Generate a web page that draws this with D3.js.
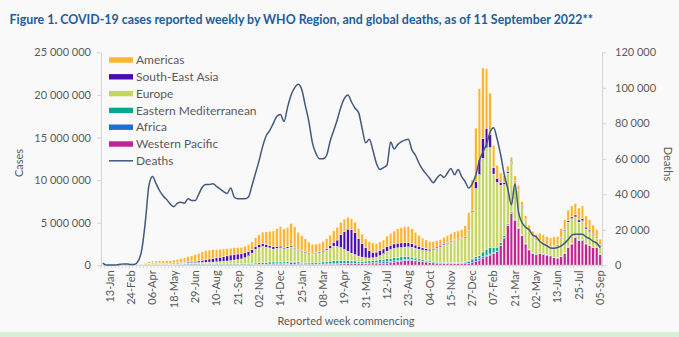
<!DOCTYPE html>
<html>
<head>
<meta charset="utf-8">
<script src="https://cdn.jsdelivr.net/npm/d3@7"></script>
<style>
  body { margin: 0; background: #f9f9f9; }
  svg { display: block; font-family: Lato, "Open Sans", sans-serif; }
</style>
</head>
<body>
<div id="chart"></div>
<script>
// weekly categories: 30-Dec-2019 .. 05-Sep-2022
const firstWeek = '2019-12-30';
const weekCount = 141;
const tickLabels = ['13-Jan', '24-Feb', '06-Apr', '18-May', '29-Jun', '10-Aug', '21-Sep', '02-Nov',
    '14-Dec', '25-Jan', '08-Mar', '19-Apr', '31-May', '12-Jul', '23-Aug', '04-Oct', '15-Nov',
    '27-Dec', '07-Feb', '21-Mar', '02-May', '13-Jun', '25-Jul', '05-Sep'];
const labelStart = 2;
const labelStep = 6;
const caseTicks = [0, 5000000, 10000000, 15000000, 20000000, 25000000];
const deathTicks = [0, 20000, 40000, 60000, 80000, 100000, 120000];

// weekly cases by region, thousands
const americas = [0, 0, 0, 0, 0, 0, 0, 0, 0, 0.1,
    2, 20, 90, 170, 220, 220, 250, 260, 290, 290,
    350, 400, 470, 520, 620, 680, 780, 870, 1000, 1050,
    1050, 1050, 1000, 940, 900, 850, 800, 780, 760, 770,
    790, 830, 880, 1050, 1150, 1350, 1500, 1650, 1850, 2050,
    2300, 2150, 2300, 2600, 2400, 2000, 1750, 1500, 1250, 1050,
    1000, 1000, 1050, 1150, 1250, 1350, 1500, 1450, 1450, 1400,
    1250, 1200, 1150, 1100, 1000, 1050, 1100, 1000, 1000, 1050,
    1250, 1400, 1500, 1700, 1800, 1900, 1900, 1750, 1500, 1300,
    1150, 1000, 900, 780, 750, 760, 780, 830, 880, 900,
    950, 1000, 1300, 2100, 3600, 6300, 8300, 8300, 7000, 4900,
    2600, 1500, 1100, 800, 650, 600, 550, 500, 500, 480,
    500, 600, 700, 850, 900, 950, 1000, 1000, 1000, 1050,
    1150, 1250, 1300, 1350, 1400, 1500, 1300, 1200, 1050, 900,
    650];
const southEastAsia = [0, 0, 0, 0, 0, 0, 0, 0, 0, 0,
    0, 0, 2, 5, 10, 15, 20, 25, 30, 40,
    50, 65, 80, 95, 110, 130, 160, 190, 240, 300,
    360, 420, 470, 510, 560, 600, 650, 680, 650, 610,
    560, 500, 420, 360, 330, 320, 310, 300, 280, 250,
    210, 180, 160, 150, 140, 130, 120, 110, 100, 100,
    110, 130, 150, 200, 300, 470, 750, 1500, 2100, 2600,
    2800, 2600, 2100, 1600, 1200, 850, 650, 580, 600, 560,
    520, 500, 520, 550, 540, 500, 460, 430, 380, 340,
    290, 240, 200, 170, 150, 140, 130, 120, 110, 100,
    100, 100, 100, 110, 150, 800, 1800, 2300, 2300, 1500,
    800, 500, 350, 250, 180, 130, 100, 80, 70, 60,
    50, 40, 40, 40, 40, 45, 60, 80, 90, 110,
    130, 160, 200, 230, 250, 250, 220, 180, 150, 120,
    90];
const europe = [0, 0, 0, 0, 0, 0, 0, 0, 1, 6,
    35, 85, 155, 200, 230, 220, 200, 170, 150, 130,
    120, 110, 115, 120, 125, 130, 135, 140, 150, 165,
    180, 190, 220, 260, 290, 330, 390, 450, 500, 560,
    700, 900, 1200, 1600, 1800, 1900, 1750, 1650, 1500, 1600,
    1650, 1550, 1600, 1700, 1550, 1350, 1250, 1150, 1050, 1000,
    1050, 1100, 1200, 1350, 1500, 1700, 1650, 1500, 1300, 1100,
    900, 750, 600, 480, 400, 340, 330, 380, 480, 650,
    900, 1050, 1100, 1100, 1100, 1100, 1150, 1150, 1150, 1150,
    1100, 1150, 1200, 1400, 1600, 1750, 2000, 2200, 2400, 2600,
    2650, 2750, 2800, 3400, 5500, 8000, 9500, 11000, 11900, 11700,
    8600, 7600, 6700, 6000, 5900, 5700, 4400, 4400, 3300, 2700,
    2300, 1900, 1600, 1450, 1300, 1100, 1000, 1300, 1400, 2100,
    2600, 2900, 2900, 2300, 2100, 2200, 1700, 1600, 1350, 1050,
    1000];
const easternMediterranean = [0, 0, 0, 0, 0, 0, 0, 0, 0.2, 3,
    8, 12, 20, 25, 28, 30, 35, 40, 50, 65,
    80, 90, 100, 115, 120, 115, 110, 100, 95, 90,
    85, 80, 80, 85, 90, 95, 100, 105, 110, 120,
    130, 140, 150, 170, 190, 210, 230, 240, 230, 210,
    190, 170, 160, 140, 140, 140, 140, 150, 160, 170,
    190, 210, 240, 280, 320, 350, 370, 370, 350, 320,
    280, 250, 230, 230, 240, 250, 250, 250, 270, 290,
    320, 350, 370, 380, 380, 370, 340, 300, 260, 220,
    190, 160, 140, 120, 110, 100, 95, 90, 85, 85,
    85, 90, 100, 120, 150, 250, 350, 550, 750, 800,
    600, 450, 330, 250, 180, 130, 100, 80, 60, 40,
    30, 25, 20, 20, 20, 20, 20, 20, 25, 30,
    40, 50, 60, 60, 55, 50, 45, 40, 35, 30,
    25];
const africa = [0, 0, 0, 0, 0, 0, 0, 0, 0, 0,
    0, 0, 2, 3, 4, 5, 7, 9, 12, 14,
    17, 20, 25, 30, 40, 50, 60, 70, 80, 90,
    85, 75, 65, 55, 45, 40, 35, 32, 30, 30,
    32, 35, 38, 40, 45, 50, 55, 60, 70, 80,
    95, 110, 130, 180, 160, 140, 110, 90, 75, 65,
    60, 60, 55, 55, 55, 55, 55, 55, 55, 50,
    50, 55, 60, 70, 90, 110, 140, 170, 190, 200,
    190, 170, 140, 120, 110, 100, 90, 80, 70, 60,
    50, 40, 35, 30, 25, 25, 25, 25, 25, 25,
    30, 60, 140, 250, 330, 300, 200, 160, 150, 120,
    100, 80, 60, 50, 40, 40, 35, 30, 30, 30,
    35, 40, 45, 50, 50, 45, 40, 35, 30, 25,
    20, 20, 20, 20, 20, 20, 20, 20, 15, 15,
    10];
const westernPacific = [0.1, 0.05, 0.2, 2, 12, 21, 28, 14, 4, 3,
    5, 8, 12, 18, 20, 15, 12, 10, 8, 7,
    7, 8, 8, 8, 9, 10, 12, 15, 20, 25,
    30, 35, 40, 45, 45, 40, 35, 35, 35, 35,
    40, 45, 50, 55, 60, 70, 80, 90, 95, 100,
    110, 110, 120, 130, 130, 120, 110, 100, 90, 80,
    80, 90, 100, 110, 120, 130, 140, 160, 170, 180,
    190, 200, 190, 180, 170, 160, 160, 170, 200, 220,
    250, 300, 380, 450, 500, 570, 600, 580, 520, 460,
    420, 380, 330, 280, 260, 250, 250, 250, 240, 230,
    220, 200, 200, 200, 300, 450, 600, 850, 1000, 1200,
    1400, 1600, 2300, 3200, 4700, 6100, 5300, 4300, 3500, 2500,
    1800, 1400, 1250, 1350, 1300, 1200, 1100, 900, 850, 1000,
    1400, 2100, 2500, 3300, 2900, 2950, 2500, 2300, 2100, 2100,
    1300];
// global weekly deaths, thousands
const deaths = [1.2, 0.1, 0.1, 0.1, 0.3, 0.6, 0.8, 0.7, 0.5, 0.6,
    2.5, 9, 25, 45, 50, 46, 42, 39, 37, 34.5,
    33, 35, 35.5, 35, 37.5, 36.5, 36.5, 40, 44, 45.5,
    45.5, 46, 44.5, 43, 41.5, 40.5, 43.5, 38.5, 37.5, 37.5,
    37.5, 38.5, 45, 52, 59, 67, 73, 76, 80, 84,
    85, 81, 89, 96, 100, 102, 99, 90, 81, 69,
    63, 60, 60, 62, 70, 76, 82, 89, 94, 96,
    92, 88.5, 86, 77, 69, 71, 65, 57.5, 54, 55,
    56.5, 69.5, 65.5, 68, 69.5, 70.5, 71, 65, 62, 57.5,
    54, 51.5, 49, 46.5, 49, 51, 49.5, 52, 54.5, 51,
    54, 50, 47, 43.5, 46, 51, 59, 64, 68, 75,
    77.5, 71, 62, 51, 43, 34, 46, 30, 24, 21.5,
    20, 17, 16, 13.5, 12, 11, 9.8, 9.6, 10, 11,
    12.5, 14.5, 17, 17.5, 17.5, 17.5, 16, 15, 13.5, 12.5,
    10];

// stack order bottom -> top
const series = [
    { key: 'Western Pacific', values: westernPacific, color: '#bf2490' },
    { key: 'Africa', values: africa, color: '#1e6ecf' },
    { key: 'Eastern Mediterranean', values: easternMediterranean, color: '#05a88e' },
    { key: 'Europe', values: europe, color: '#c4d65b' },
    { key: 'South-East Asia', values: southEastAsia, color: '#4c0db0' },
    { key: 'Americas', values: americas, color: '#fdb52f' }
];
const deathColor = '#42587e';
const textColor = '#595959';
const axisColor = '#d4d4d4';

const width = 679, height = 337;
const plot = { left: 101, right: 602, top: 52.3, bottom: 265.3 };

const start = d3.timeParse('%Y-%m-%d')(firstWeek);
const weeks = d3.range(weekCount).map(i => d3.timeWeek.offset(start, i));

const table = weeks.map((w, i) => {
    const row = { week: i };
    series.forEach(s => { row[s.key] = s.values[i] * 1000; });
    return row;
});
const stacked = d3.stack().keys(series.map(s => s.key))(table);

const svg = d3.select('#chart')
    .append('svg')
    .attr('width', width)
    .attr('height', height);

svg.append('rect').attr('width', width).attr('height', height).attr('fill', '#f9f9f9');
svg.append('rect').attr('y', 332).attr('width', width).attr('height', 5).attr('fill', '#d9efd7');

//title
const title = svg.append('text')
    .attr('x', 9.5)
    .attr('y', 24)
    .attr('fill', '#215e99')
    .attr('font-weight', 'bold')
    .attr('font-size', 14)
    .text('Figure 1. COVID-19 cases reported weekly by WHO Region, and global deaths, as of 11 September 2022**');
const titleWidth = title.node().getComputedTextLength();
title.attr('font-size', 14 * 584 / titleWidth);

//scales
const x = d3.scaleBand().domain(d3.range(weekCount))
    .range([plot.left, plot.right])
    .paddingInner(0.26)
    .paddingOuter(0.13);
const step = x.step();
const y = d3.scaleLinear().domain([0, 25000000]).range([plot.bottom, plot.top]);
const yDeaths = d3.scaleLinear().domain([0, 120000]).range([plot.bottom, plot.top]);

const fmt = d3.formatLocale({ decimal: '.', thousands: ' ', grouping: [3], currency: ['', ''] }).format(',');

//bars
svg.append('g')
    .selectAll('g')
    .data(stacked)
    .join('g')
    .attr('fill', (d, i) => series[i].color)
    .selectAll('rect')
    .data(d => d)
    .join('rect')
    .attr('x', (d, i) => x(i))
    .attr('width', x.bandwidth())
    .attr('y', d => y(d[1]))
    .attr('height', d => Math.max(0, y(d[0]) - y(d[1])))
    .attr('stroke', '#fff')
    .attr('stroke-width', 0.4);

//axes
const styleAxis = g => {
    g.select('.domain').attr('stroke', axisColor);
    g.selectAll('.tick line').attr('stroke', axisColor);
    g.selectAll('.tick text').attr('fill', textColor).attr('font-size', 11).attr('font-family', 'Lato, sans-serif');
};

svg.append('g')
    .attr('transform', `translate(${plot.left},0)`)
    .call(d3.axisLeft(y).tickValues(caseTicks).tickSize(4).tickSizeOuter(0).tickPadding(6).tickFormat(fmt))
    .call(styleAxis);

svg.append('g')
    .attr('transform', `translate(${plot.right},0)`)
    .call(d3.axisRight(yDeaths).tickValues(deathTicks).tickSize(4).tickSizeOuter(0).tickPadding(9).tickFormat(fmt))
    .call(styleAxis);

const xAxis = svg.append('g').attr('transform', `translate(0,${plot.bottom})`);
xAxis.append('line')
    .attr('x1', plot.left).attr('x2', plot.right)
    .attr('stroke', axisColor);
xAxis.selectAll('.wk')
    .data(d3.range(weekCount + 1))
    .join('line')
    .attr('class', 'wk')
    .attr('x1', i => plot.left + step * i)
    .attr('x2', i => plot.left + step * i)
    .attr('y1', 0).attr('y2', 3)
    .attr('stroke', axisColor)
    .attr('stroke-width', 0.8);
xAxis.selectAll('.lbl')
    .data(tickLabels)
    .join('text')
    .attr('class', 'lbl')
    .attr('transform', (d, k) => {
        const i = labelStart + k * labelStep;
        return `translate(${x(i) + x.bandwidth() / 2},5) rotate(-90)`;
    })
    .attr('dy', '0.35em')
    .attr('text-anchor', 'end')
    .attr('fill', textColor)
    .attr('font-size', 11)
    .text(d => d);

//deaths line
svg.append('path')
    .datum(deaths)
    .attr('fill', 'none')
    .attr('stroke', deathColor)
    .attr('stroke-width', 1.5)
    .attr('d', d3.line()
        .curve(d3.curveMonotoneX)
        .x((d, i) => x(i) + x.bandwidth() / 2)
        .y(d => yDeaths(d * 1000)));

//axis titles
svg.append('text')
    .attr('transform', 'translate(23,163) rotate(-90)')
    .attr('text-anchor', 'middle')
    .attr('fill', textColor).attr('font-size', 11)
    .text('Cases');
svg.append('text')
    .attr('transform', 'translate(664,164) rotate(90)')
    .attr('text-anchor', 'middle')
    .attr('fill', textColor).attr('font-size', 11)
    .text('Deaths');
svg.append('text')
    .attr('x', 346).attr('y', 325)
    .attr('text-anchor', 'middle')
    .attr('fill', textColor).attr('font-size', 11)
    .text('Reported week commencing');

//legend
const legendItems = series.slice().reverse().map(s => ({ key: s.key, color: s.color, line: false }))
    .concat([{ key: 'Deaths', color: deathColor, line: true }]);
const legend = svg.append('g')
    .selectAll('g')
    .data(legendItems)
    .join('g')
    .attr('transform', (d, i) => `translate(109,${60 + i * 16.8})`);
legend.append('rect')
    .attr('y', d => d.line ? -0.75 : -2.7)
    .attr('width', 24)
    .attr('height', d => d.line ? 1.5 : 5.4)
    .attr('fill', d => d.color);
legend.append('text')
    .attr('x', 27)
    .attr('dy', '0.35em')
    .attr('fill', textColor)
    .attr('font-size', 12)
    .text(d => d.key);
</script>
</body>
</html>
